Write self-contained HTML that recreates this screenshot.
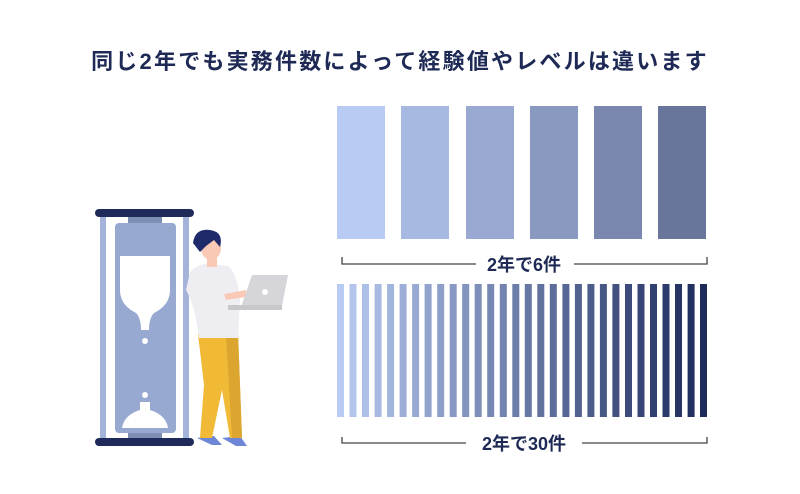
<!DOCTYPE html>
<html><head><meta charset="utf-8"><style>
body{margin:0;background:#fff;width:800px;height:494px;overflow:hidden;font-family:"Liberation Sans","Noto Sans CJK JP",sans-serif}
.t{position:absolute;left:0;width:800px;top:44px;text-align:center;font-size:22px;font-weight:bold;color:#1e2a55;letter-spacing:2.2px}
</style></head><body>
<div class="t">同じ2年でも実務件数によって経験値やレベルは違います</div>
<svg width="800" height="494" style="position:absolute;left:0;top:0">
<g>
<rect x="337" y="106" width="48" height="133" fill="#b8cbf2"/>
<rect x="401" y="106" width="48" height="133" fill="#a7b8e1"/>
<rect x="466" y="106" width="48" height="133" fill="#99a9d1"/>
<rect x="530" y="106" width="48" height="133" fill="#8999c0"/>
<rect x="594" y="106" width="48" height="133" fill="#7986ae"/>
<rect x="658" y="106" width="48" height="133" fill="#69759b"/>
</g>
<g fill="none" stroke="#444" stroke-width="1.3">
<path d="M342 257V264H476M574 264H707V257"/>
<path d="M342 437V443H466M582 443H707V437"/>
</g>
<text x="524" y="271" text-anchor="middle" font-size="18" font-weight="bold" fill="#1e2a55" font-family="Liberation Sans,Noto Sans CJK JP,sans-serif">2年で6件</text>
<text x="524" y="450" text-anchor="middle" font-size="18" font-weight="bold" fill="#1e2a55" font-family="Liberation Sans,Noto Sans CJK JP,sans-serif">2年で30件</text>
<g>
<rect x="337" y="284" width="7" height="133" fill="rgb(184,203,242)"/>
<rect x="349.5" y="284" width="7" height="133" fill="rgb(179,197,237)"/>
<rect x="362" y="284" width="7" height="133" fill="rgb(173,192,232)"/>
<rect x="374.6" y="284" width="7" height="133" fill="rgb(168,186,226)"/>
<rect x="387.1" y="284" width="7" height="133" fill="rgb(162,181,221)"/>
<rect x="399.6" y="284" width="7" height="133" fill="rgb(157,175,216)"/>
<rect x="412.1" y="284" width="7" height="133" fill="rgb(152,170,211)"/>
<rect x="424.6" y="284" width="7" height="133" fill="rgb(146,164,206)"/>
<rect x="437.2" y="284" width="7" height="133" fill="rgb(141,159,201)"/>
<rect x="449.7" y="284" width="7" height="133" fill="rgb(136,153,195)"/>
<rect x="462.2" y="284" width="7" height="133" fill="rgb(130,148,190)"/>
<rect x="474.7" y="284" width="7" height="133" fill="rgb(125,142,185)"/>
<rect x="487.2" y="284" width="7" height="133" fill="rgb(119,136,180)"/>
<rect x="499.8" y="284" width="7" height="133" fill="rgb(114,131,175)"/>
<rect x="512.3" y="284" width="7" height="133" fill="rgb(109,125,170)"/>
<rect x="524.8" y="284" width="7" height="133" fill="rgb(103,120,164)"/>
<rect x="537.3" y="284" width="7" height="133" fill="rgb(98,114,159)"/>
<rect x="549.8" y="284" width="7" height="133" fill="rgb(93,109,154)"/>
<rect x="562.4" y="284" width="7" height="133" fill="rgb(87,103,149)"/>
<rect x="574.9" y="284" width="7" height="133" fill="rgb(82,98,144)"/>
<rect x="587.4" y="284" width="7" height="133" fill="rgb(76,92,139)"/>
<rect x="599.9" y="284" width="7" height="133" fill="rgb(71,87,133)"/>
<rect x="612.4" y="284" width="7" height="133" fill="rgb(66,81,128)"/>
<rect x="625" y="284" width="7" height="133" fill="rgb(60,75,123)"/>
<rect x="637.5" y="284" width="7" height="133" fill="rgb(55,70,118)"/>
<rect x="650" y="284" width="7" height="133" fill="rgb(49,64,113)"/>
<rect x="662.5" y="284" width="7" height="133" fill="rgb(44,59,108)"/>
<rect x="675" y="284" width="7" height="133" fill="rgb(39,53,102)"/>
<rect x="687.6" y="284" width="7" height="133" fill="rgb(33,48,97)"/>
<rect x="700" y="284" width="7" height="133" fill="rgb(28,42,92)"/>
</g>
<!-- hourglass -->
<rect x="100" y="214" width="6" height="226" fill="#a3b3d9"/>
<rect x="183" y="214" width="6" height="226" fill="#a3b3d9"/>
<rect x="128" y="216" width="34" height="8" fill="#7d8fb5"/>
<rect x="128" y="432" width="34" height="8" fill="#7d8fb5"/>
<rect x="115" y="223" width="61" height="210" rx="4" fill="#97a9d0"/>
<path d="M120 256H170V290Q170 305 154 313Q149 318 149 330H141Q141 318 136 313Q120 305 120 290Z" fill="#fff"/>
<rect x="142" y="338" width="6" height="6" rx="3" fill="#fff"/>
<rect x="142" y="392" width="6" height="6" rx="3" fill="#fff"/>
<path d="M122 428Q124 415 140 410V402H150V410Q166 415 168 428Z" fill="#fff"/>
<rect x="95" y="209" width="99" height="8" rx="4" fill="#1e2a5a"/>
<rect x="95" y="438" width="99" height="8" rx="4" fill="#1e2a5a"/>
<!-- person -->
<path d="M197 438L212 445L222 445L214 436Z" fill="#6d86d6"/>
<path d="M222 438L236 446L247 446L240 436Z" fill="#6d86d6"/>
<path d="M198 334L238 332L242 438L230 438L222 390L212 438L200 438L204 385Z" fill="#f0b936"/>
<path d="M226 334L238 332L242 438L232 438Z" fill="#dba530"/>
<path d="M190 272Q200 262 212 264L228 266Q238 274 240 300L238 338L199 338Q195 305 186 290Z" fill="#eeeef2"/>
<rect x="207" y="255" width="10" height="12" fill="#f9c9b6"/>
<ellipse cx="211" cy="248" rx="10" ry="12" fill="#f9c9b6"/>
<path d="M193 243Q195 228 210 230Q224 232 220 247L214 240L206 246L200 252Z" fill="#1e2a6a"/>
<path d="M224 294L246 290L246 297L226 300Z" fill="#f9c9b6"/>
<path d="M252 275L288 275L282 306L241 307Z" fill="#d6d6da"/>
<rect x="228" y="305" width="54" height="5" fill="#c8c8cc"/>
<circle cx="265" cy="292" r="3" fill="#fff"/>
</svg>
</body></html>
